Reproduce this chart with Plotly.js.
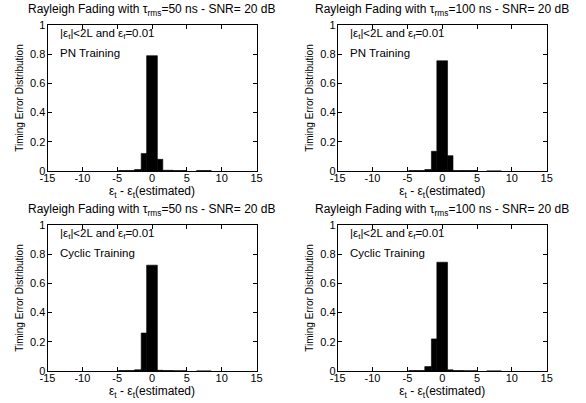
<!DOCTYPE html>
<html><head><meta charset="utf-8">
<script src="https://cdn.plot.ly/plotly-3.0.1.min.js"></script>
<style>html,body{margin:0;padding:0;background:#fff}</style>
</head><body>
<div id="chart" style="width:586px;height:403px"></div>
<script>
// histogram bins (timing error, samples): centres and widths
const binCenters = [-3.65, -2.025, -1.16, 0, 1.16, 2.275, 4.0, 7.45];
const binWidths  = [2.3, 0.95, 0.78, 1.54, 0.78, 1.45, 2.0, 2.1];
const pn50   = [0.003, 0.010, 0.120, 0.790, 0.080, 0.005, 0.003, 0.003];
const pn100  = [0.003, 0.010, 0.135, 0.755, 0.105, 0.003, 0.003, 0.000];
const cyc50  = [0.003, 0.008, 0.260, 0.725, 0.005, 0.003, 0.002, 0.000];
const cyc100 = [0.003, 0.030, 0.220, 0.745, 0.008, 0.003, 0.002, 0.000];
const xTicks = [-15, -10, -5, 0, 5, 10, 15];
const xTickText = ['-15', '-10', '-5', '0', '5', '10', '15'];
const yTicks = [0, 0.2, 0.4, 0.6, 0.8, 1];
const yTickText = ['0', '0.2', '0.4', '0.6', '0.8', '1'];
const titles = ['Rayleigh Fading with τ<sub>rms</sub>=50 ns - SNR= 20 dB',
                'Rayleigh Fading with τ<sub>rms</sub>=100 ns - SNR= 20 dB',
                'Rayleigh Fading with τ<sub>rms</sub>=50 ns - SNR= 20 dB',
                'Rayleigh Fading with τ<sub>rms</sub>=100 ns - SNR= 20 dB'];
const trainings = ['PN Training', 'PN Training', 'Cyclic Training', 'Cyclic Training'];
const condText = '|ε<sub>t</sub>|&lt;2L and ε<sub>f</sub>=0.01';
const xLabel = 'ε<sub>t</sub> - ε<sub>t</sub>(estimated)';
const yLabel = 'Timing Error Distribution';
const series = [pn50, pn100, cyc50, cyc100];

const W = 586, H = 403;
const xDom = [[47.5/W, 256.5/W], [337.7/W, 546.7/W]];
const yDom = [[1-171/H, 1-25/H], [1-371/H, 1-225/H]];
const font = 'Liberation Sans, Arial, sans-serif';

const data = [];
const layout = {
  width: W, height: H, margin: {l:0, r:0, t:0, b:0},
  paper_bgcolor: '#fff', plot_bgcolor: '#fff',
  showlegend: false, bargap: 0,
  font: {family: font, size: 11, color: '#000'},
  annotations: []
};
for (let i = 0; i < 4; i++) {
  const col = i % 2, row = Math.floor(i / 2);
  const n = i + 1;
  const xa = 'x' + (n === 1 ? '' : n), ya = 'y' + (n === 1 ? '' : n);
  data.push({
    type: 'bar', x: binCenters, y: series[i], width: binWidths,
    xaxis: xa, yaxis: ya,
    marker: {color: '#000', line: {color: '#000', width: 0.6}},
    hoverinfo: 'skip'
  });
  const axCommon = {
    showgrid: false, zeroline: false, showline: true, linecolor: '#000', linewidth: 1,
    mirror: 'ticks', ticks: 'inside', ticklen: 4, tickwidth: 1, tickcolor: '#000',
    tickfont: {family: font, size: 11, color: '#000'}, fixedrange: true
  };
  layout['xaxis' + (n === 1 ? '' : n)] = Object.assign({}, axCommon, {
    domain: xDom[col], anchor: ya, range: [-15, 15],
    tickmode: 'array', tickvals: xTicks, ticktext: xTickText,
    ticklabelstandoff: -3,
    title: {text: xLabel, font: {family: font, size: 12, color: '#000'}, standoff: 3}
  });
  layout['yaxis' + (n === 1 ? '' : n)] = Object.assign({}, axCommon, {
    domain: yDom[row], anchor: xa, range: [0, 1],
    tickmode: 'array', tickvals: yTicks, ticktext: yTickText,
    ticklabelstandoff: -1,
    title: {text: yLabel, font: {family: font, size: 10, color: '#000'}, standoff: 4}
  });
  const xMid = (xDom[col][0] + xDom[col][1]) / 2;
  layout.annotations.push({
    xref: 'paper', yref: 'paper', x: xMid, y: yDom[row][1] + 5/H,
    xanchor: 'center', yanchor: 'bottom', showarrow: false,
    text: titles[i], font: {family: font, size: 12, color: '#000'}
  });
  layout.annotations.push({
    xref: xa, yref: ya, x: -13.5, y: 0.935, xanchor: 'left', yanchor: 'middle',
    showarrow: false, text: condText, font: {family: font, size: 11.5, color: '#000'}
  });
  layout.annotations.push({
    xref: xa, yref: ya, x: -13.5, y: 0.808, xanchor: 'left', yanchor: 'middle',
    showarrow: false, text: trainings[i], font: {family: font, size: 11.5, color: '#000'}
  });
}
Plotly.newPlot('chart', data, layout, {staticPlot: true});
</script>
</body></html>
